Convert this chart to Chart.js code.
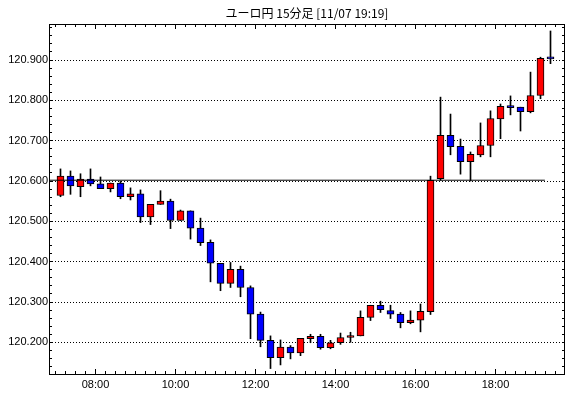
<!DOCTYPE html>
<html lang="ja">
<head>
<meta charset="utf-8">
<title>ユーロ円 15分足</title>
<script src="https://cdn.jsdelivr.net/npm/chart.js@4.4.0/dist/chart.umd.min.js"></script>
<style>
  html, body { margin: 0; padding: 0; background: #fff; }
  #wrap { width: 570px; height: 398px; }
</style>
</head>
<body>
<div id="wrap"><canvas id="chart" width="570" height="398"></canvas></div>
<script>
// 15分足の開始時刻
const times = [
  '07:00', '07:15', '07:30', '07:45', '08:00', '08:15', '08:30', '08:45',
  '09:00', '09:15', '09:30', '09:45', '10:00', '10:15', '10:30', '10:45',
  '11:00', '11:15', '11:30', '11:45', '12:00', '12:15', '12:30', '12:45',
  '13:00', '13:15', '13:30', '13:45', '14:00', '14:15', '14:30', '14:45',
  '15:00', '15:15', '15:30', '15:45', '16:00', '16:15', '16:30', '16:45',
  '17:00', '17:15', '17:30', '17:45', '18:00', '18:15', '18:30', '18:45',
  '19:00', '19:15'
];
const opens = [
  120.564, 120.612, 120.586, 120.605, 120.593, 120.581, 120.595, 120.561,
  120.568, 120.511, 120.542, 120.550, 120.502, 120.526, 120.483, 120.448,
  120.396, 120.346, 120.381, 120.336, 120.270, 120.205, 120.162, 120.188,
  120.174, 120.209, 120.215, 120.187, 120.199, 120.212, 120.216, 120.262,
  120.292, 120.279, 120.270, 120.249, 120.255, 120.276, 120.606, 120.713,
  120.686, 120.648, 120.665, 120.688, 120.754, 120.784, 120.783, 120.772,
  120.812, 120.904
];
const highs = [
  120.630, 120.625, 120.618, 120.630, 120.610, 120.595, 120.599, 120.583,
  120.578, 120.542, 120.576, 120.555, 120.528, 120.526, 120.508, 120.454,
  120.396, 120.398, 120.389, 120.340, 120.275, 120.216, 120.206, 120.192,
  120.210, 120.220, 120.220, 120.205, 120.223, 120.225, 120.278, 120.292,
  120.302, 120.292, 120.274, 120.278, 120.295, 120.612, 120.808, 120.766,
  120.704, 120.672, 120.744, 120.774, 120.791, 120.811, 120.783, 120.870,
  120.907, 120.972
];
const lows = [
  120.561, 120.567, 120.561, 120.588, 120.581, 120.573, 120.556, 120.553,
  120.497, 120.492, 120.542, 120.482, 120.502, 120.456, 120.440, 120.350,
  120.328, 120.336, 120.313, 120.209, 120.189, 120.135, 120.144, 120.159,
  120.167, 120.199, 120.183, 120.184, 120.195, 120.200, 120.216, 120.254,
  120.274, 120.259, 120.236, 120.246, 120.226, 120.269, 120.602, 120.665,
  120.617, 120.600, 120.660, 120.660, 120.705, 120.764, 120.724, 120.769,
  120.804, 120.891
];
const closes = [
  120.612, 120.588, 120.605, 120.593, 120.581, 120.595, 120.561, 120.568,
  120.511, 120.542, 120.550, 120.502, 120.526, 120.483, 120.447, 120.396,
  120.346, 120.381, 120.336, 120.270, 120.205, 120.162, 120.188, 120.174,
  120.210, 120.215, 120.187, 120.199, 120.212, 120.217, 120.262, 120.292,
  120.281, 120.270, 120.249, 120.255, 120.277, 120.602, 120.713, 120.685,
  120.648, 120.666, 120.688, 120.755, 120.785, 120.782, 120.772, 120.812,
  120.904, 120.903
];
// 基準線 (横の実線)
const refLevel = 120.602;
const refFrom = '06:50';
const refTo = '19:14';

// 軸の目盛りラベル
const xTickLabels = ['08:00', '10:00', '12:00', '14:00', '16:00', '18:00'];
const yTickValues = [120.2, 120.3, 120.4, 120.5, 120.6, 120.7, 120.8, 120.9];

const toHours = t => {
  const [h, m] = t.split(':').map(Number);
  return h + m / 60;
};
// 足の中心 = 開始 + 7.5分
const centers = times.map(t => toHours(t) + 0.125);

const bodies = centers.map((x, i) => ({ x: x, y: [opens[i], closes[i]] }));
const wicks = centers.map((x, i) => ({ x: x, y: [lows[i], highs[i]] }));
const bodyColors = opens.map((o, i) => closes[i] >= o ? '#ff0000' : '#0000ff');

const X_MIN = 6.8375, X_MAX = 19.7375;
const Y_MIN = 120.1215, Y_MAX = 120.9893;

// 枠と内側の小目盛り
const frameTicks = {
  id: 'frameTicks',
  afterDatasetsDraw(chart) {
    const { ctx, chartArea: a, scales: { x, y } } = chart;
    ctx.save();
    ctx.strokeStyle = '#000';
    ctx.lineWidth = 1;
    ctx.beginPath();
    for (let m = 7 * 60; m <= 19.75 * 60; m += 15) {
      const px = Math.floor(x.getPixelForValue(m / 60)) + 0.5;
      if (px <= a.left || px >= a.right) continue;
      const len = m % 120 === 0 ? 5 : 3;
      ctx.moveTo(px, a.bottom); ctx.lineTo(px, a.bottom - len);
      ctx.moveTo(px, a.top); ctx.lineTo(px, a.top + len);
    }
    for (let k = 0; k <= 50; k++) {
      const v = 120.12 + k * 0.02;
      const py = Math.floor(y.getPixelForValue(v)) + 0.5;
      if (py <= a.top + 1 || py >= a.bottom - 1) continue;
      ctx.moveTo(a.left, py); ctx.lineTo(a.left + 3, py);
      ctx.moveTo(a.right, py); ctx.lineTo(a.right - 3, py);
    }
    ctx.stroke();
    ctx.strokeRect(a.left + 0.5, a.top + 0.5, a.right - a.left - 1, a.bottom - a.top);
    ctx.restore();
  }
};

new Chart(document.getElementById('chart'), {
  type: 'bar',
  data: {
    datasets: [
      {
        type: 'line',
        data: [{ x: toHours(refFrom), y: refLevel }, { x: toHours(refTo), y: refLevel }],
        borderColor: '#000',
        borderWidth: 1,
        pointRadius: 0,
        order: 0
      },
      {
        data: bodies,
        backgroundColor: bodyColors,
        borderColor: '#000',
        borderWidth: 1,
        borderSkipped: false,
        barThickness: 7,
        minBarLength: 2,
        grouped: false,
        order: 1
      },
      {
        data: wicks,
        backgroundColor: '#000',
        borderWidth: 0,
        barThickness: 1,
        grouped: false,
        order: 2
      }
    ]
  },
  options: {
    responsive: false,
    animation: false,
    devicePixelRatio: 1,
    layout: { padding: { left: 0, right: 5, top: 0, bottom: 0 } },
    scales: {
      x: {
        type: 'linear',
        min: X_MIN,
        max: X_MAX,
        offset: false,
        grid: { display: false, drawTicks: false },
        border: { display: false },
        ticks: {
          stepSize: 2,
          includeBounds: false,
          autoSkip: false,
          maxRotation: 0,
          padding: 4,
          color: '#000',
          font: { family: 'Liberation Sans', size: 11 },
          callback: v => xTickLabels.find(l => toHours(l) === v) || ''
        },
        afterFit: s => { s.height = 24; }
      },
      y: {
        min: Y_MIN,
        max: Y_MAX,
        grid: { color: '#000', lineWidth: 1, drawTicks: false },
        border: { display: false, dash: [1, 2] },
        afterBuildTicks: s => { s.ticks = yTickValues.map(v => ({ value: v })); },
        ticks: {
          padding: 1,
          color: '#000',
          font: { family: 'Liberation Sans', size: 11 },
          callback: v => v.toFixed(3)
        },
        afterFit: s => { s.width = 49; }
      }
    },
    plugins: {
      legend: { display: false },
      tooltip: { enabled: false },
      title: {
        display: true,
        fullSize: false,
        text: 'ユーロ円 15分足 [11/07 19:19]',
        color: '#000',
        font: { family: 'Noto Sans CJK JP', size: 12, weight: 'normal', lineHeight: 14 / 12 },
        padding: { top: 6, bottom: 4 }
      }
    }
  },
  plugins: [frameTicks]
});
</script>
</body>
</html>
